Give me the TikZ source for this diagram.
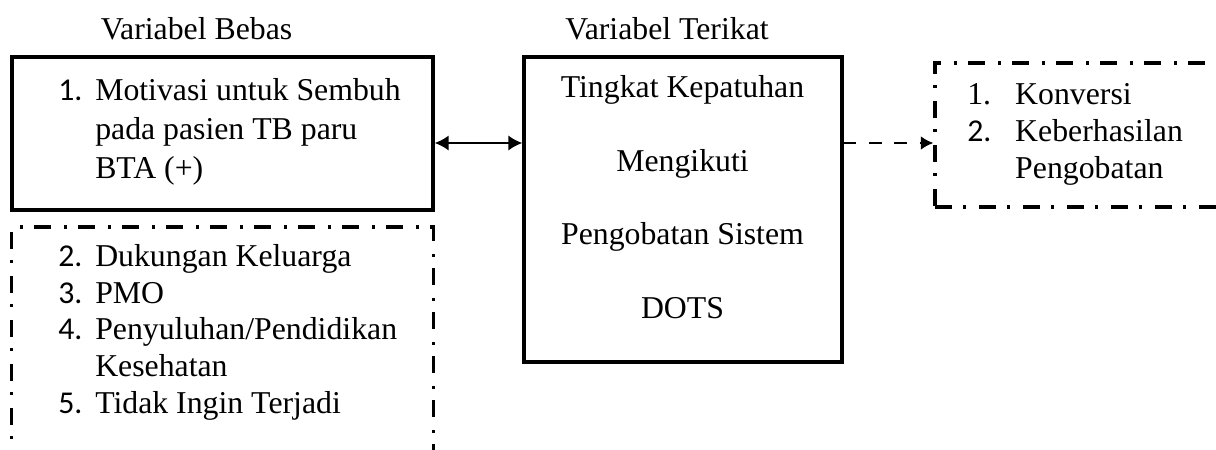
\documentclass[tikz,border=0pt]{standalone}
\usepackage{fontspec}
\setmainfont{Liberation Serif}
\newfontfamily\numfont{Carlito}
\usetikzlibrary{positioning,arrows.meta}

% nomor butir dan indentasi baris lanjutan
\newcommand{\nomor}[2][26.3pt]{\makebox[#1][l]{\numfont #2}}
\newcommand{\lanjut}[1][26.3pt]{\hspace*{#1}}

\begin{document}
\begin{tikzpicture}[
    x=0.025cm, y=-0.025cm,
    % Gaya node
    every node/.style={font=\fontsize{22.6}{27.7}\selectfont, inner sep=0pt},
    solidbox/.style={draw, rectangle, line width=2.3pt},
    dotbox/.style={draw, rectangle, line width=2.2pt,
                   dash pattern=on 12.1pt off 7.8pt on 2.2pt off 9.2pt},
    isi/.style={align=left, anchor=base west},
    judul/.style={anchor=south},
    dblarrow/.style={{Latex[length=10pt,width=11pt]}-{Latex[length=10pt,width=11pt]},
                     line width=1.6pt},
    dasharrow/.style={-{Latex[length=9pt,width=10pt]}, line width=1.9pt,
                      dash pattern=on 9pt off 9pt}
]
\useasboundingbox (0,0) rectangle (1216,449);

% Kotak variabel
\node[solidbox, minimum width=10.525cm, minimum height=3.825cm] (bebas) at (222.5,133.5) {};
\node[dotbox, minimum width=10.525cm, minimum height=6.325cm] (lain) at (222.5,353.5) {};
\node[solidbox, minimum width=7.95cm, minimum height=7.625cm] (terikat) at (683,209.5) {};
\node[dotbox, minimum width=7.625cm, minimum height=3.6cm] (hasil) at (1087.5,135) {};

% Judul
\node[judul, above=0.37cm of bebas.north, xshift=-0.65cm] (judulbebas) {Variabel Bebas};
\node[judul, above=0.37cm of terikat.north, xshift=-0.4cm] (judulterikat) {Variabel Terikat};

% Isi kotak (anchor base = baris terakhir)
\node[isi] (bebastxt) at (58,178.5) {\nomor{1.}Motivasi untuk Sembuh\\
    \lanjut pada pasien TB paru\\
    \lanjut BTA (+)};

\node[isi, font=\fontsize{22.6}{26.1}\selectfont] (laintxt) at (58,413.3) {\nomor{2.}Dukungan Keluarga\\
    \nomor{3.}PMO\\
    \nomor{4.}Penyuluhan/Pendidikan\\
    \lanjut Kesehatan\\
    \nomor{5.}Tidak Ingin Terjadi};

\node[align=center, anchor=base, font=\fontsize{22.6}{52.2}\selectfont] (terikattxt) at (682.5,318) {Tingkat Kepatuhan\\
    Mengikuti\\
    Pengobatan Sistem\\
    DOTS};

\node[isi, font=\fontsize{22.6}{26}\selectfont] (hasiltxt) at (967,178) {\makebox[34.1pt][l]{1.}Konversi\\
    \nomor[34.1pt]{2.}Keberhasilan\\
    \lanjut[34.1pt]Pengobatan};

% Panah
\draw[dblarrow] ([yshift=-0.2375cm]bebas.east) -- ([yshift=-0.2375cm]bebas.east -| terikat.west);
\draw[dasharrow] ([yshift=-0.2cm]hasil.west -| terikat.east) -- ([yshift=-0.2cm]hasil.west);

\end{tikzpicture}
\end{document}
